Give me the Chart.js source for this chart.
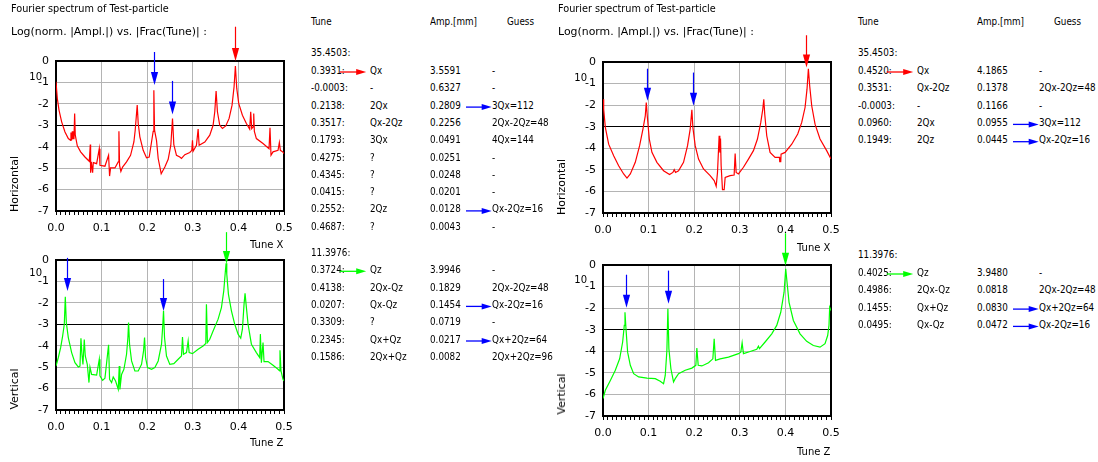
<!DOCTYPE html>
<html>
<head>
<meta charset="utf-8">
<script src="https://cdn.jsdelivr.net/npm/chart.js@4.4.1/dist/chart.umd.min.js"></script>
<style>
  body { margin: 0; background: #fff; }
  #page { position: relative; width: 1098px; height: 462px; overflow: hidden; font-family: "DejaVu Sans", sans-serif; color: #000; }
  canvas { position: absolute; }
  .t { position: absolute; white-space: nowrap; line-height: 14px; transform-origin: 0 50%; z-index: 2; }
  svg { position: absolute; left: 0; top: 0; z-index: 3; }
</style>
</head>
<body>
<div id="page"></div>
<script>
// spectra: [tune, log10(norm. amplitude)]
const horizLeft = [[0.0000,-0.97],[0.0029,-1.75],[0.0066,-2.29],[0.0124,-2.84],[0.0197,-3.31],[0.0270,-3.62],[0.0321,-3.70],[0.0328,-3.34],[0.0343,-3.70],[0.0358,-3.28],[0.0372,-3.62],[0.0394,-3.62],[0.0409,-2.45],[0.0423,-3.46],[0.0467,-3.96],[0.0540,-4.24],[0.0635,-4.48],[0.0730,-4.68],[0.0752,-3.90],[0.0759,-5.21],[0.0774,-4.71],[0.0803,-5.21],[0.0818,-4.74],[0.0891,-4.79],[0.0949,-4.09],[0.0964,-4.87],[0.1073,-4.91],[0.1153,-4.40],[0.1175,-5.37],[0.1197,-4.99],[0.1292,-4.99],[0.1365,-4.71],[0.1380,-3.28],[0.1394,-4.87],[0.1423,-5.15],[0.1460,-4.95],[0.1547,-4.71],[0.1635,-4.40],[0.1708,-3.78],[0.1737,-3.23],[0.1781,-2.06],[0.1803,-2.92],[0.1839,-3.54],[0.1912,-4.17],[0.1985,-4.52],[0.2044,-4.48],[0.2095,-3.78],[0.2131,-3.28],[0.2146,-1.36],[0.2161,-3.23],[0.2204,-3.70],[0.2241,-4.55],[0.2307,-5.26],[0.2387,-4.95],[0.2460,-4.59],[0.2518,-3.93],[0.2555,-2.68],[0.2584,-3.90],[0.2642,-4.40],[0.2715,-4.48],[0.2752,-4.55],[0.2825,-4.37],[0.2934,-4.27],[0.2978,-4.17],[0.2993,-3.70],[0.3007,-4.21],[0.3080,-3.93],[0.3117,-3.18],[0.3139,-3.93],[0.3263,-3.78],[0.3372,-3.46],[0.3445,-3.00],[0.3482,-2.37],[0.3511,-1.40],[0.3540,-2.37],[0.3591,-3.00],[0.3650,-3.15],[0.3723,-3.03],[0.3796,-2.68],[0.3861,-2.06],[0.3905,-1.20],[0.3934,-0.23],[0.3964,-1.28],[0.4007,-1.98],[0.4088,-2.53],[0.4175,-2.92],[0.4248,-3.18],[0.4270,-2.37],[0.4292,-3.15],[0.4321,-3.07],[0.4336,-2.45],[0.4350,-3.28],[0.4394,-3.62],[0.4540,-3.85],[0.4672,-4.09],[0.4693,-3.12],[0.4715,-4.40],[0.4759,-4.24],[0.4869,-4.17],[0.4898,-3.81],[0.4920,-4.17],[0.4978,-4.25],[0.5000,-4.32]];

const vertLeft = [[0.0000,-4.95],[0.0051,-4.55],[0.0102,-4.09],[0.0146,-3.54],[0.0182,-3.00],[0.0204,-1.72],[0.0226,-2.92],[0.0270,-3.62],[0.0343,-4.32],[0.0416,-4.79],[0.0489,-4.99],[0.0526,-4.95],[0.0547,-3.65],[0.0569,-4.40],[0.0591,-4.87],[0.0620,-3.71],[0.0642,-4.48],[0.0686,-4.87],[0.0723,-5.72],[0.0745,-5.00],[0.0781,-5.34],[0.0891,-5.37],[0.0949,-4.63],[0.0964,-5.41],[0.1022,-5.62],[0.1073,-5.52],[0.1153,-3.96],[0.1175,-5.57],[0.1219,-5.72],[0.1255,-5.46],[0.1307,-5.65],[0.1365,-6.04],[0.1387,-4.95],[0.1401,-6.04],[0.1438,-5.34],[0.1489,-5.10],[0.1547,-4.40],[0.1577,-3.62],[0.1591,-2.92],[0.1613,-3.93],[0.1657,-4.71],[0.1730,-5.18],[0.1803,-5.18],[0.1876,-4.87],[0.1920,-4.24],[0.1942,-3.62],[0.1964,-4.55],[0.2007,-5.02],[0.2095,-5.10],[0.2168,-5.02],[0.2241,-4.71],[0.2314,-3.93],[0.2343,-3.00],[0.2358,-2.37],[0.2380,-3.62],[0.2423,-4.48],[0.2496,-4.87],[0.2584,-4.84],[0.2679,-4.63],[0.2752,-4.48],[0.2774,-3.59],[0.2796,-4.40],[0.2861,-4.32],[0.2898,-3.78],[0.2920,-4.32],[0.2993,-4.37],[0.3117,-4.17],[0.3226,-4.01],[0.3285,-3.90],[0.3299,-2.06],[0.3321,-3.85],[0.3372,-3.70],[0.3445,-3.31],[0.3555,-2.76],[0.3628,-2.22],[0.3679,-1.44],[0.3715,-0.50],[0.3730,-0.15],[0.3745,-0.66],[0.3781,-1.59],[0.3847,-2.37],[0.3920,-3.00],[0.3993,-3.46],[0.4051,-3.65],[0.4088,-3.23],[0.4124,-2.06],[0.4146,-1.56],[0.4168,-2.06],[0.4212,-3.00],[0.4285,-3.93],[0.4394,-4.32],[0.4467,-4.55],[0.4482,-3.46],[0.4504,-4.79],[0.4540,-3.85],[0.4562,-4.74],[0.4650,-4.74],[0.4759,-4.91],[0.4869,-5.10],[0.4905,-5.18],[0.4912,-4.21],[0.4934,-5.18],[0.4978,-5.57],[0.5000,-5.65]];

const horizRight = [[0.0000,-1.73],[0.0015,-2.19],[0.0051,-3.03],[0.0124,-3.81],[0.0234,-4.35],[0.0343,-4.81],[0.0453,-5.19],[0.0526,-5.38],[0.0599,-5.19],[0.0708,-4.65],[0.0803,-3.88],[0.0876,-3.11],[0.0927,-2.50],[0.0949,-1.88],[0.0971,-2.50],[0.1015,-3.57],[0.1073,-4.19],[0.1182,-4.65],[0.1328,-5.04],[0.1460,-5.22],[0.1533,-5.12],[0.1562,-4.99],[0.1591,-5.12],[0.1657,-5.04],[0.1766,-4.65],[0.1854,-3.88],[0.1912,-3.11],[0.1949,-2.22],[0.1971,-3.03],[0.2022,-3.88],[0.2095,-4.50],[0.2204,-4.96],[0.2350,-5.27],[0.2438,-5.50],[0.2482,-5.76],[0.2511,-5.12],[0.2547,-3.42],[0.2562,-4.20],[0.2577,-3.55],[0.2591,-4.81],[0.2620,-5.92],[0.2657,-5.92],[0.2679,-5.35],[0.2788,-5.27],[0.2876,-5.24],[0.2898,-4.24],[0.2920,-5.12],[0.2971,-5.19],[0.3080,-4.88],[0.3190,-4.50],[0.3299,-4.11],[0.3387,-3.57],[0.3460,-2.80],[0.3504,-2.19],[0.3526,-1.73],[0.3547,-2.42],[0.3591,-3.42],[0.3664,-4.19],[0.3774,-4.42],[0.3869,-4.42],[0.3876,-4.62],[0.3898,-4.62],[0.3905,-4.27],[0.3993,-4.19],[0.4139,-3.81],[0.4270,-3.34],[0.4358,-2.80],[0.4431,-2.11],[0.4474,-1.26],[0.4504,-0.31],[0.4533,-1.11],[0.4577,-2.03],[0.4650,-2.88],[0.4759,-3.57],[0.4905,-4.11],[0.5000,-4.50]];

const vertRight = [[0.0000,-6.19],[0.0051,-5.81],[0.0161,-5.35],[0.0270,-4.88],[0.0365,-4.35],[0.0431,-3.57],[0.0467,-2.80],[0.0482,-2.19],[0.0504,-2.96],[0.0540,-4.04],[0.0599,-4.65],[0.0672,-5.04],[0.0781,-5.19],[0.0964,-5.24],[0.1146,-5.27],[0.1255,-5.39],[0.1328,-5.50],[0.1365,-5.12],[0.1401,-3.96],[0.1423,-2.03],[0.1445,-3.88],[0.1489,-4.81],[0.1547,-5.42],[0.1584,-5.27],[0.1657,-5.04],[0.1803,-4.88],[0.1949,-4.78],[0.2036,-4.65],[0.2058,-3.85],[0.2088,-4.65],[0.2168,-4.68],[0.2314,-4.53],[0.2409,-4.35],[0.2438,-3.42],[0.2467,-4.42],[0.2569,-4.35],[0.2752,-4.27],[0.2971,-4.11],[0.3022,-4.04],[0.3051,-3.61],[0.3080,-4.11],[0.3226,-4.01],[0.3372,-3.91],[0.3409,-3.76],[0.3431,-3.88],[0.3555,-3.57],[0.3701,-3.19],[0.3810,-2.80],[0.3898,-2.19],[0.3971,-1.26],[0.4007,-0.18],[0.4036,-0.80],[0.4080,-1.73],[0.4175,-2.57],[0.4321,-3.19],[0.4467,-3.54],[0.4613,-3.73],[0.4759,-3.81],[0.4869,-3.65],[0.4927,-3.27],[0.4956,-2.80],[0.4971,-1.96],[0.5000,-2.11]];

// arrows on the plots: tune, tail (log), tip (log)
const horizLeftArrows = [[0.216, 0.42, -1.12], [0.2533, -0.93, -2.50], [0.392, 1.60, 0.00]];
const vertLeftArrows = [[0.0234, 0.10, -1.45], [0.235, -0.89, -2.38], [0.3723, 1.30, -0.19]];
const horizRightArrows = [[0.0964, -0.31, -1.80], [0.197, -0.49, -2.03], [0.4453, 1.24, -0.26]];
const vertRightArrows = [[0.0504, -0.45, -1.98], [0.1416, -0.26, -1.80], [0.400, 1.47, -0.03]];

// tables
const hTotalL = '35.4503:';
const hTuneL = ['0.3931:', '-0.0003:', '0.2138:', '0.3517:', '0.1793:', '0.4275:', '0.4345:', '0.0415:', '0.2552:', '0.4687:'];
const hNameL = ['Qx', '-', '2Qx', 'Qx-2Qz', '3Qx', '?', '?', '?', '2Qz', '?'];
const hAmpL = ['3.5591', '0.6327', '0.2809', '0.2256', '0.0491', '0.0251', '0.0248', '0.0201', '0.0128', '0.0043'];
const hGuessL = ['-', '-', '3Qx=112', '2Qx-2Qz=48', '4Qx=144', '-', '-', '-', 'Qx-2Qz=16', '-'];
const hLinkedL = [2, 8];

const vTotalL = '11.3976:';
const vTuneL = ['0.3724:', '0.4138:', '0.0207:', '0.3309:', '0.2345:', '0.1586:'];
const vNameL = ['Qz', '2Qx-Qz', 'Qx-Qz', '?', 'Qx+Qz', '2Qx+Qz'];
const vAmpL = ['3.9946', '0.1829', '0.1454', '0.0719', '0.0217', '0.0082'];
const vGuessL = ['-', '2Qx-2Qz=48', 'Qx-2Qz=16', '-', 'Qx+2Qz=64', '2Qx+2Qz=96'];
const vLinkedL = [2, 4];

const hTotalR = '35.4503:';
const hTuneR = ['0.4520:', '0.3531:', '-0.0003:', '0.0960:', '0.1949:'];
const hNameR = ['Qx', 'Qx-2Qz', '-', '2Qx', '2Qz'];
const hAmpR = ['4.1865', '0.1378', '0.1166', '0.0955', '0.0445'];
const hGuessR = ['-', '2Qx-2Qz=48', '-', '3Qx=112', 'Qx-2Qz=16'];
const hLinkedR = [3, 4];

const vTotalR = '11.3976:';
const vTuneR = ['0.4025:', '0.4986:', '0.1455:', '0.0495:'];
const vNameR = ['Qz', '2Qx-Qz', 'Qx+Qz', 'Qx-Qz'];
const vAmpR = ['3.9480', '0.0818', '0.0830', '0.0472'];
const vGuessR = ['-', '2Qx-2Qz=48', 'Qx+2Qz=64', 'Qx-2Qz=16'];
const vLinkedR = [2, 3];

const RED = '#ff0000', GREEN = '#00ff00', BLUE = '#0000ff';

Chart.defaults.font.family = '"DejaVu Sans", sans-serif';
Chart.defaults.font.size = 11;
Chart.defaults.color = '#000';

const page = document.getElementById('page');
const svg = document.createElementNS('http://www.w3.org/2000/svg', 'svg');
svg.setAttribute('width', 1098);
svg.setAttribute('height', 462);
page.appendChild(svg);

const isMajor = v => Math.abs(Math.round(v * 100)) % 10 === 0;

const framePlugin = {
  id: 'frame',
  beforeDatasetsDraw(chart) {
    const a = chart.chartArea, c = chart.ctx;
    c.save();
    c.strokeStyle = '#000';
    c.lineWidth = 2;
    c.strokeRect(a.left, a.top, a.right - a.left, a.bottom - a.top);
    c.restore();
  }
};

function arrowPlugin(arrows, colors) {
  return {
    id: 'arrows',
    afterDatasetsDraw(chart) {
      const xs = chart.scales.x, ys = chart.scales.y, c = chart.ctx;
      arrows.forEach(([t, tail, tip], i) => {
        const px = Math.round(xs.getPixelForValue(t)) + 0.5;
        const y1 = ys.getPixelForValue(tail), y2 = ys.getPixelForValue(tip);
        c.save();
        c.strokeStyle = c.fillStyle = colors[i];
        c.lineWidth = 1.2;
        c.beginPath(); c.moveTo(px, y1); c.lineTo(px, y2 - 12); c.stroke();
        c.beginPath(); c.moveTo(px - 3.6, y2 - 13); c.lineTo(px + 3.6, y2 - 13); c.lineTo(px, y2); c.closePath(); c.fill();
        c.restore();
      });
    }
  };
}

function makeChart(left, top, w, h, padTop, points, color, arrows, arrowColors) {
  const cv = document.createElement('canvas');
  cv.width = w; cv.height = h;
  cv.style.left = left + 'px'; cv.style.top = top + 'px';
  page.appendChild(cv);
  return new Chart(cv.getContext('2d'), {
    type: 'line',
    data: {
      datasets: [{
        data: points.map(p => ({ x: p[0], y: p[1] })),
        borderColor: color,
        borderWidth: 1.2,
        pointRadius: 0,
        tension: 0,
        fill: false
      }]
    },
    options: {
      responsive: false,
      animation: false,
      events: [],
      layout: { padding: { left: 0, right: 16, top: padTop, bottom: 0 } },
      plugins: { legend: { display: false }, tooltip: { enabled: false } },
      scales: {
        x: {
          type: 'linear', min: 0, max: 0.5,
          afterFit: s => { s.height = 30; },
          border: { display: false },
          grid: {
            color: ctx => isMajor(ctx.tick.value) ? '#b4b4b4' : 'rgba(0,0,0,0)',
            tickColor: '#000', tickLength: 4, tickWidth: 1, lineWidth: 1
          },
          ticks: {
            stepSize: 0.01, maxTicksLimit: 60, autoSkip: false, maxRotation: 0, padding: 7,
            callback: v => isMajor(v) ? v.toFixed(1) : ''
          }
        },
        y: {
          min: -7, max: 0,
          afterFit: s => { s.width = 56; },
          border: { display: false },
          grid: { color: ctx => ctx.tick.value === -3 ? '#000' : '#b4b4b4', drawTicks: false },
          ticks: { stepSize: 1, padding: 7 }
        }
      }
    },
    plugins: [framePlugin, arrowPlugin(arrows, arrowColors)]
  });
}

makeChart(0, 15, 300, 226, 46, horizLeft, RED, horizLeftArrows, [BLUE, BLUE, RED]);
makeChart(0, 215, 300, 225, 45, vertLeft, GREEN, vertLeftArrows, [BLUE, BLUE, GREEN]);
makeChart(547, 15, 300, 228, 47, horizRight, RED, horizRightArrows, [BLUE, BLUE, RED]);
makeChart(547, 218, 300, 228, 47, vertRight, GREEN, vertRightArrows, [BLUE, BLUE, GREEN]);

function put(txt, x, y, size, sx, right) {
  const d = document.createElement('div');
  d.className = 't';
  d.textContent = txt;
  d.style.fontSize = size + 'px';
  d.style.top = (y - 7) + 'px';
  if (right) {
    d.style.right = (1098 - x) + 'px';
    d.style.transformOrigin = '100% 50%';
  } else {
    d.style.left = x + 'px';
  }
  d.style.transform = 'scaleX(' + sx + ')';
  page.appendChild(d);
}

function putRot(txt, cx, cy) {
  const d = document.createElement('div');
  d.className = 't';
  d.textContent = txt;
  d.style.fontSize = '11px';
  d.style.left = cx + 'px';
  d.style.top = cy + 'px';
  d.style.transformOrigin = '50% 50%';
  d.style.transform = 'translate(-50%,-50%) rotate(-90deg)';
  page.appendChild(d);
}

function tableArrow(x1, x2, y, color) {
  const ns = 'http://www.w3.org/2000/svg';
  const ln = document.createElementNS(ns, 'line');
  ln.setAttribute('x1', x1); ln.setAttribute('x2', x2 - 9);
  ln.setAttribute('y1', y); ln.setAttribute('y2', y);
  ln.setAttribute('stroke', color); ln.setAttribute('stroke-width', 1.3);
  svg.appendChild(ln);
  const hd = document.createElementNS(ns, 'polygon');
  hd.setAttribute('points', `${x2 - 10},${y - 3} ${x2},${y} ${x2 - 10},${y + 3}`);
  hd.setAttribute('fill', color);
  svg.appendChild(hd);
}

const TS = 0.8;
function table(x0, yHead, yTotal, y0, total, tunes, names, amps, guesses, mainColor, linked) {
  if (yHead) {
    put('Tune', x0, yHead, 11, TS);
    put('Amp.[mm]', x0 + 119.3, yHead, 11, TS);
    put('Guess', x0 + 196, yHead, 11, TS);
  }
  put(total, x0, yTotal, 11, TS);
  tunes.forEach((t, i) => {
    const y = y0 + i * 17.3;
    put(t, x0, y, 11, TS);
    put(names[i], x0 + 59.5, y, 11, TS);
    put(amps[i], x0 + 119.3, y, 11, TS);
    put(guesses[i], x0 + 181.3, y, 11, TS);
  });
  tableArrow(x0 + 29, x0 + 55.5, y0 + 1, mainColor);
  linked.forEach(i => tableArrow(x0 + 155.3, x0 + 181, y0 + i * 17.3 + 1.5, BLUE));
}

table(310.7, 22, 53, 71, hTotalL, hTuneL, hNameL, hAmpL, hGuessL, RED, hLinkedL);
table(310.7, 0, 253, 270.3, vTotalL, vTuneL, vNameL, vAmpL, vGuessL, GREEN, vLinkedL);
table(857.7, 22, 53, 71, hTotalR, hTuneR, hNameR, hAmpR, hGuessR, RED, hLinkedR);
table(857.7, 0, 255, 273, vTotalR, vTuneR, vNameR, vAmpR, vGuessR, GREEN, vLinkedR);

// titles and axis labels
[[11, 0], [558, 547]].forEach(([tx, dx]) => {
  put('Fourier spectrum of Test-particle', tx, 9, 10, 0.97);
  put('Log(norm. |Ampl.|) vs. |Frac(Tune)| :', tx, 32, 10, 1.09);
});
put('10', 42, 77, 10, 1, true);
put('10', 42, 273, 10, 1, true);
put('10', 587, 78, 10, 1, true);
put('10', 587, 280, 10, 1, true);
putRot('Horizontal', 15, 184);
putRot('Vertical', 15, 389);
putRot('Horizontal', 562, 187);
putRot('Vertical', 562, 394);
put('Tune X', 250, 245, 10, 1);
put('Tune Z', 250, 443, 10, 1);
put('Tune X', 797, 248, 10, 1);
put('Tune Z', 797, 452, 10, 1);
</script>
</body>
</html>
